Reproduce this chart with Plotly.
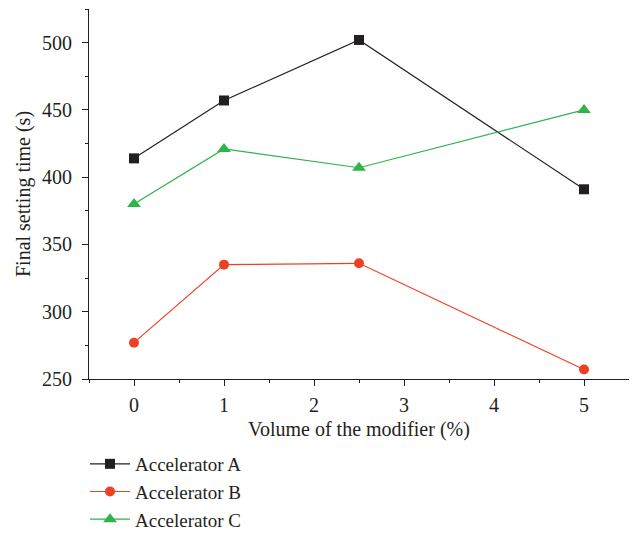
import plotly.graph_objects as go

x_vals = [0, 1, 2.5, 5]
acc_a = [414, 457, 502, 391]
acc_b = [277, 335, 336, 257]
acc_c = [380, 421, 407, 450]
names = ["Accelerator A", "Accelerator B", "Accelerator C"]
colors = ["#231f20", "#ee4123", "#2fb34a"]
symbols = ["square", "circle", "triangle-up"]
sizes = [10, 10, 12]

fig = go.Figure()
for name, ys, c, s, sz in zip(names, [acc_a, acc_b, acc_c], colors, symbols, sizes):
    fig.add_trace(go.Scatter(
        x=x_vals, y=ys, name=name, mode="lines+markers",
        line=dict(color=c, width=1.2),
        marker=dict(symbol=s, size=sz, color=c),
        cliponaxis=False,
    ))

font = "Liberation Serif, Times New Roman, serif"
fig.update_layout(
    width=629, height=531,
    margin=dict(l=81, r=8, t=1, b=159),
    plot_bgcolor="white", paper_bgcolor="white",
    font=dict(family=font, size=20, color="#231f20"),
    showlegend=True,
    legend=dict(x=-0.0074, y=-0.4285, xanchor="left", yanchor="bottom",
                orientation="v", font=dict(size=19), tracegroupgap=0,
                itemwidth=40),
)
fig.update_xaxes(
    range=[-0.5, 5.5], tickvals=[0, 1, 2, 3, 4, 5],
    ticks="outside", ticklen=6, tickcolor="#231f20",
    tickfont=dict(size=20), ticklabelstandoff=2,
    showline=True, linecolor="#231f20", linewidth=1.2,
    showgrid=False, zeroline=False, automargin=False,
    minor=dict(tickvals=[-0.5, 0.5, 1.5, 2.5, 3.5, 4.5, 5.5], ticks="outside", ticklen=3, tickcolor="#231f20"),
    title=dict(text="Volume of the modifier (%)", standoff=6, font=dict(size=20)),
)
fig.update_yaxes(
    range=[250, 525], tickvals=[250, 300, 350, 400, 450, 500],
    ticks="outside", ticklen=6, tickcolor="#231f20",
    tickfont=dict(size=20), ticklabelstandoff=6,
    showline=True, linecolor="#231f20", linewidth=1.2,
    showgrid=False, zeroline=False, automargin=False,
    minor=dict(tickvals=[275, 325, 375, 425, 475, 525], ticks="outside", ticklen=3, tickcolor="#231f20"),
    title=dict(text="Final setting time (s)", standoff=5, font=dict(size=20)),
)
fig.write_html("out.html")
